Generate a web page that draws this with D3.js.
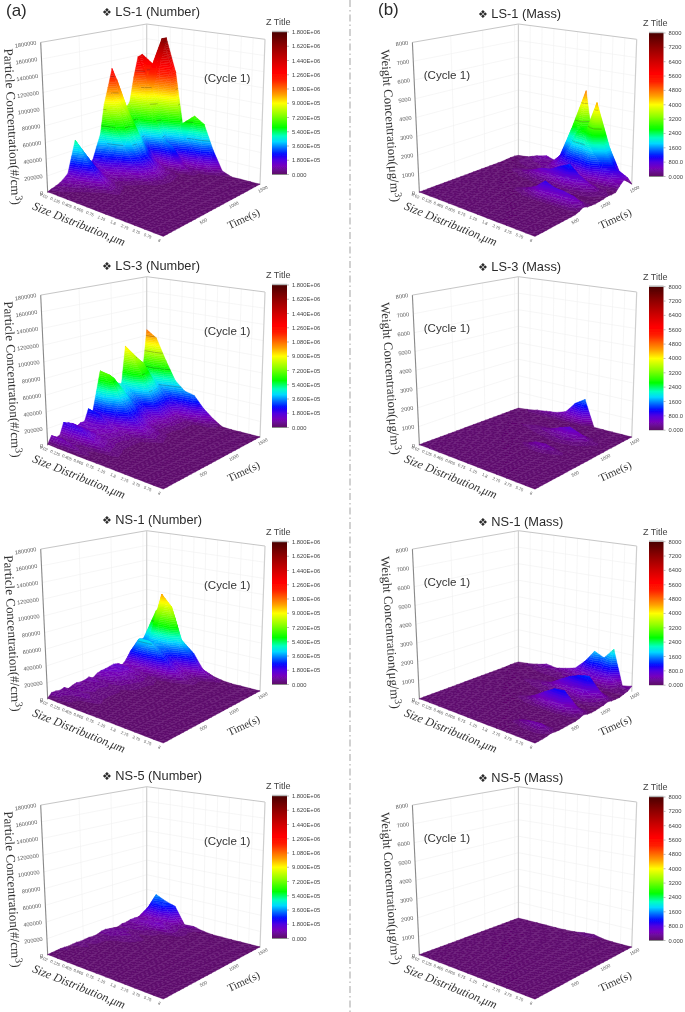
<!DOCTYPE html>
<html><head><meta charset="utf-8">
<script src="https://cdn.jsdelivr.net/npm/d3@7"></script>
<style>html,body{margin:0;padding:0;background:#fff}svg{display:block}</style>
</head><body><svg id="c" width="685" height="1012"></svg>
<script>
// ---------- chart data: rows = time steps (front to back), columns = size bins; missing trailing cells are at floor level
const sizeTicks = ["0.02","0.125","0.405","0.605","0.75","1.15","1.8","2.75","3.75","5.75","8"];
const timeTicks = [500,1000,1500];
const numberTicks = [0,200000,400000,600000,800000,1000000,1200000,1400000,1600000,1800000];
const massTicks = [0,1000,2000,3000,4000,5000,6000,7000,8000];
const numberBarLabels = ["0.000","1.800E+05","3.600E+05","5.400E+05","7.200E+05","9.000E+05","1.080E+06","1.260E+06","1.440E+06","1.620E+06","1.800E+06"];
const massBarLabels = ["0.000","800.0","1600","2400","3200","4000","4800","5600","6400","7200","8000"];

// number concentration, in thousands of #/cm3
const LS1_NUMBER = [[10],[30,15],[45,25,12],[65,35,15],[100,60,25],[145,90,40,15],[330,200,90,30],[520,360,190,80,30],[420,300,170,70,25],[310,210,110,50,20],[185,130,70,30,12],[200,140,80,35,15],[350,240,130,60,25],[500,350,200,90,35,12],[860,620,380,190,80,30],[1070,800,500,260,110,40,12],[1300,840,520,260,140,50,15],[1150,800,560,280,120,45,15],[820,640,400,200,90,35,12],[730,560,320,150,70,30],[800,560,250,80,30],[1120,950,700,380,320,110,30],[1380,1130,810,320,100,60,30,12],[1400,930,1650,1290,560,300,180,80,25],[1060,1230,1650,1200,330,680,600,290,55,10]];
const LS3_NUMBER = [[15,10],[100,105,70,40,20,10],[60,55,40,25,12],[70,70,50,30,15],[205,195,180,120,70,35,15],[185,175,150,100,60,30,12],[160,150,130,90,55,25,10],[100,100,90,70,45,20],[130,120,100,75,45,20],[130,125,110,80,45,20],[270,240,135,90,50,20,10],[210,190,120,80,45,20],[450,400,260,150,80,35,12],[700,680,400,240,130,70,30,12],[650,620,390,230,120,60,25],[560,510,400,220,110,55,20],[510,445,310,170,60,30,12],[480,420,300,160,70,30,12],[450,400,280,150,70,30],[930,820,500,250,90,40,15],[820,760,480,240,90,40,15],[760,700,460,230,90,40,15],[600,560,400,220,90,40,15],[500,480,350,240,180,150,80,40,15],[1080,990,710,470,360,330,190,90,15]];
const NS1_NUMBER = [[15],[65,40,20],[65,40,20],[55,50,25],[70,45,60,35,15],[40,45,50,30,15],[60,50,40,25,12],[75,60,45,25,12],[65,55,40,25],[70,55,40,25],[90,70,45,25],[60,50,35,20],[100,85,60,35,15],[115,100,70,40,20],[120,110,80,45,20],[130,125,90,50,20],[140,140,70,50,25,12],[130,120,80,40,20],[90,85,60,35,15],[140,130,110,90,60,30,12],[225,430,430,330,210,100,40,15],[290,330,380,300,180,90,35,15],[355,330,400,350,180,90,40,15],[320,400,1000,860,460,300,150,60,25],[285,740,880,670,280,270,90,45,20]];
const NS5_NUMBER = [[12],[15],[20,12],[25,15],[25,20,12],[20,20,12],[25,20,12],[30,25,15],[25,20,12],[30,25,15],[35,25,15],[30,25,15],[35,30,20,12],[55,50,35,20],[60,60,40,25,12],[50,55,50,30,15],[40,60,30,20,12],[35,40,25,15],[55,60,50,30,15],[55,65,60,35,15],[70,90,100,120,60,25,10],[70,80,95,90,60,30,12],[65,90,110,90,50,25],[45,260,280,180,60,30,10],[130,360,300,260,50,55,25,12]];

// mass concentration, ug/m3
const LS1_MASS = [[],[],[],[],[40,40,40,40,60,60,70,60,50,60,60,50],[],[],[],[],[],[],[40,40,40,40,60,80,120,250,450,380,350,300,100],[40,40,40,40,60,100,250,500,950,750,700,600,200],[40,40,40,40,60,80,130,260,480,400,360,300,100],[40,40,40,40,50,60,80,100,150,130,120,100,70],[],[40,40,40,60,80,120,160,180,220,160,120,80,50],[40,40,60,100,180,300,350,500,620,420,250,120,60],[40,60,100,200,350,600,700,1000,1250,800,480,200,100],[40,50,80,120,200,300,350,500,620,400,240,120,60],[40,50,70,90,120,160,200,250,300,220,150,100,60],[60,80,120,160,200,350,700,1200,1400,2000,900,500,300],[80,100,150,200,250,600,1400,2500,2800,4400,1850,1050,500],[80,100,200,300,250,900,2500,2700,2800,2300,1900,500,500],[40,100,300,440,260,1050,2400,4700,1200,700,400,200,60]];
const LS3_MASS = [[],[],[],[],[],[],[],[],[],[],[],[40,40,40,40,40,50,60,120,150,80,50],[40,40,40,40,40,60,120,350,400,180,80],[40,40,40,40,40,50,60,120,150,80,50],[],[],[40,40,40,40,50,60,90,130,180,120,60],[40,40,40,50,80,120,180,260,350,250,110,60],[40,60,80,100,130,200,300,520,700,500,200,80,50],[40,50,60,80,100,130,180,260,350,250,100,60],[],[],[],[40,50,60,70,80,90,100,80,50],[40,100,200,280,350,530,1150,1500,50,40]];
const NS1_MASS = [[],[],[],[40,40,40,40,40,40,40,40,40,100,150,160,60],[40,40,40,40,40,40,40,40,60,250,350,400,100],[40,40,40,40,40,40,40,40,40,120,180,180,60],[],[],[],[],[],[40,40,40,40,50,70,100,180,330,450,500,250,80],[40,40,40,40,60,80,150,400,750,1050,1100,500,150],[40,40,40,40,50,70,100,180,330,450,500,250,80],[],[],[40,40,40,50,60,80,120,180,250,300,320,180,70],[40,40,50,70,90,130,180,300,450,550,620,300,90],[40,50,70,90,130,200,320,650,950,1150,1250,600,150],[40,40,50,70,90,130,180,300,450,550,620,300,90],[40,40,50,60,70,80,100,130,160,180,180,100,60],[],[60,70,80,100,120,150,200,300,350,300,250,150,100],[60,80,100,150,150,200,280,500,700,800,700,200,150],[50,100,200,350,260,380,530,1050,1750,1500,2100,200,300]];
const NS5_MASS = [[],[],[],[],[],[],[],[],[],[],[],[],[],[],[],[],[],[],[40,40,40,40,40,45,50,60,70,60,50],[],[],[],[],[40,40,40,40,40,45,50,60,60,50],[40,40,40,40,40,50,80,160,200,80,50]];

const numberTitles = ["LS-1 (Number)","LS-3 (Number)","NS-1 (Number)","NS-5 (Number)"];
const massTitles = ["LS-1 (Mass)","LS-3 (Mass)","NS-1 (Mass)","NS-5 (Mass)"];
const numberGrids = [LS1_NUMBER,LS3_NUMBER,NS1_NUMBER,NS5_NUMBER];
const massGrids = [LS1_MASS,LS3_MASS,NS1_MASS,NS5_MASS];

// ---------- styling and layout
const ROWS=25, COLS=13, BANDS=80;
const rowDy=[0,252.7,506.7,762.7], colDx=371.7;
const numBarY=[32,285,542,796], massBarY=[33,286.7,541.7,797];
const titleY={a:[16,270,524,779.5],b:[17.5,271,525.5,781.5]};
const corners={A:[47.7,192.7],B:[163.3,237.3],C:[260,185],D:[146.7,156]};
const ups={A:[-7,-150.3],B:[-2,-164],C:[5,-145.7],D:[0,-132]};
const stops=[0,.003,.02,.06,.10,.14,.18,.23,.27,.33,.42,.5,.56,.66,.72,.8,.9,1];
const stopColors=["#111","#5c0868","#640880","#7606bc","#5000e0","#0808ff","#0060ff","#00d8ff","#00ffc0","#00ff00","#90ff00","#ffff00","#ffa000","#ff2000","#ff0000","#d00000","#900000","#4a0000"];
const colorOf=d3.scaleLinear().domain(stops).range(stopColors).clamp(true);
const uOf=d3.scaleLinear().domain([0,COLS-1]).range([0,1]);
const vOf=d3.scaleLinear().domain([0,ROWS-1]).range([0,1]);
const vOfTime=d3.scaleLinear().domain([-100,1560]).range([0,1]);
const uOfSize=d3.scalePoint().domain(sizeTicks).range([0,1]);

function bil(q,u,v){const f=k=>q.A[k]*(1-u)*(1-v)+q.B[k]*u*(1-v)+q.C[k]*u*v+q.D[k]*(1-u)*v;return [f(0),f(1)];}
function project(u,v,zf){const p=bil(corners,u,v),w=bil(ups,u,v);return [p[0]+zf*w[0],p[1]+zf*w[1]];}
const fmt=a=>a[0].toFixed(2)+","+a[1].toFixed(2);

const svg=d3.select("#c");
const defs=svg.append("defs");
defs.append("filter").attr("id","soft").attr("x",0).attr("y",0).attr("width",1).attr("height",1)
  .attr("filterUnits","objectBoundingBox")
  .append("feGaussianBlur").attr("stdDeviation",0.6);
const grad=defs.append("linearGradient").attr("id","bar").attr("x1",0).attr("x2",0).attr("y1",1).attr("y2",0);
stops.forEach((s,i)=>grad.append("stop").attr("offset",s).attr("stop-color",stopColors[i]));
const root=svg.append("g").attr("filter","url(#soft)");
root.append("rect").attr("width",685).attr("height",1012).attr("fill","#fff");

function clipZ(poly,lo,hi){ // keep the part of a polygon with lo<=z<=hi
  const cut=(pts,inside,lev)=>{const out=[];pts.forEach((p,i)=>{const q=pts[(i+1)%pts.length],a=inside(p),b=inside(q);
    if(a)out.push(p);
    if(a!==b){const t=(lev-p[2])/(q[2]-p[2]);out.push([p[0]+t*(q[0]-p[0]),p[1]+t*(q[1]-p[1]),lev]);}});return out;};
  let r=cut(poly,p=>p[2]>=lo,lo);if(r.length<3)return r;
  return cut(r,p=>p[2]<=hi,hi);
}
function isoSeg(tri,lev){const pts=[];for(let i=0;i<3;i++){const p=tri[i],q=tri[(i+1)%3];
  if((p[2]-lev)*(q[2]-lev)<0){const t=(lev-p[2])/(q[2]-p[2]);pts.push([p[0]+t*(q[0]-p[0]),p[1]+t*(q[1]-p[1])]);}}
  return pts.length===2?pts:null;}

function drawSurface(g,grid,zMax,floorVal,levels){
  const zF=d3.scaleLinear().domain([0,zMax]).range([0,1]);
  const val=(i,j)=>{const c=grid[i][j];return c===undefined?floorVal:Math.max(c,floorVal);};
  const vert=(i,j)=>{const z=val(i,j),p=project(uOf(j),vOf(i),zF(z));return [p[0],p[1],z];};
  const step=zMax/BANDS;
  const tri=(t,contour)=>{
    const zs=t.map(p=>p[2]),lo=Math.floor(d3.min(zs)/step),hi=Math.ceil(d3.max(zs)/step);
    for(let k=lo;k<Math.max(hi,lo+1);k++){
      const poly=clipZ(t,k*step,(k+1)*step); if(poly.length<3)continue;
      const col=colorOf(zF((k+.5)*step>floorVal*1.2?(k+.5)*step:floorVal));
      g.append("path").attr("d","M"+poly.map(fmt).join("L")+"Z").attr("fill",col).attr("stroke",col).attr("stroke-width",.35);
    }
    if(contour)levels.forEach(L=>{const s=isoSeg(t,L);if(s)g.append("path").attr("d","M"+fmt(s[0])+"L"+fmt(s[1])).attr("stroke","#2b2b2b").attr("stroke-opacity",.5).attr("stroke-width",.55).attr("fill","none");});
  };
  for(let i=ROWS-2;i>=0;i--)for(let j=0;j<COLS-1;j++){
    const a=vert(i,j),b=vert(i+1,j),c=vert(i+1,j+1),d=vert(i,j+1);
    const contour=(i%2===1);
    tri([a,b,c],contour); tri([a,c,d],contour);
    if(j%2===0)g.append("path").attr("d","M"+fmt(a)+"L"+fmt(b)).attr("stroke","#fff").attr("stroke-opacity",.045).attr("stroke-width",.5).attr("fill","none");
    if(i%3===1)g.append("path").attr("d","M"+fmt(b)+"L"+fmt(c)).attr("stroke","#fff").attr("stroke-opacity",.06).attr("stroke-width",.5).attr("fill","none");
  }
}

function drawPanel(px,py,o){
  const g=root.append("g").attr("transform",`translate(${px},${py})`);
  const zF=d3.scaleLinear().domain([0,o.ticks[o.ticks.length-1]]).range([0,1]);
  const line=(a,b,col,w)=>g.append("line").attr("x1",a[0]).attr("y1",a[1]).attr("x2",b[0]).attr("y2",b[1]).attr("stroke",col).attr("stroke-width",w);
  // walls
  o.ticks.slice(1,-1).forEach(t=>{const f=zF(t);
    line(project(0,0,f),project(0,1,f),"#f0f0f0",.6);line(project(0,1,f),project(1,1,f),"#f0f0f0",.6);});
  timeTicks.forEach(t=>line(project(0,vOfTime(t),0),project(0,vOfTime(t),1),"#f0f0f0",.6));
  sizeTicks.slice(1,-1).forEach(s=>line(project(uOfSize(s),1,0),project(uOfSize(s),1,1),"#f0f0f0",.6));
  line(project(0,0,1),project(0,1,1),"#c6c6c6",1);
  line(project(0,1,1),project(1,1,1),"#c6c6c6",1);
  line(project(0,1,0),project(0,1,1),"#cfcfcf",1.2);
  line(project(1,1,0),project(1,1,1),"#cfcfcf",1.2);
  line(project(0,0,0),project(0,0,1),"#8a8a8a",1.1);
  // surface
  drawSurface(g,o.grid,o.gridMax,o.floorVal,o.levels);
  // z tick labels
  o.ticks.forEach(t=>{const p=project(0,0,zF(t));
    g.append("text").attr("transform",`translate(${p[0]-4},${p[1]+2}) rotate(-9)`).attr("text-anchor","end")
     .attr("font-family","Liberation Sans").attr("font-size",5.6).attr("fill","#555").text(t);});
  // size tick labels
  sizeTicks.forEach(s=>{const p=project(uOfSize(s),0,0);
    g.append("text").attr("transform",`translate(${p[0]-4.5},${p[1]+4.5}) rotate(24)`).attr("text-anchor","middle")
     .attr("font-family","Liberation Sans").attr("font-size",4.1).attr("fill","#555").text(s);});
  // time tick labels
  timeTicks.forEach(t=>{const v=vOfTime(t),p=project(1,v,0);
    g.append("text").attr("transform",`translate(${p[0]+2.5},${p[1]+6}) rotate(-27)`)
     .attr("font-family","Liberation Sans").attr("font-size",4.6).attr("fill","#555").text(t);});
  // axis titles
  const zt=g.append("text").attr("transform",`translate(${o.ztx},${o.zty}) rotate(${o.ztr})`).attr("text-anchor","middle")
     .attr("font-family","Liberation Serif").attr("font-size",o.zts).attr("fill","#333");
  zt.append("tspan").text(o.ztitle);
  zt.append("tspan").attr("font-size",o.zts*.8).attr("dy",-4).text("3");
  zt.append("tspan").attr("dy",4).text(")");
  g.append("text").attr("transform","translate(77.5,227.5) rotate(22)").attr("text-anchor","middle")
     .attr("font-family","Liberation Serif").attr("font-style","italic").attr("font-size",12).attr("fill","#333").text("Size Distribution,\u03bcm");
  g.append("text").attr("transform","translate(245,222) rotate(-25)").attr("text-anchor","middle")
     .attr("font-family","Liberation Serif").attr("font-size",11).attr("fill","#333").text("Time(s)");
  g.append("text").attr("x",o.cx).attr("y",o.cy).attr("font-family","Liberation Sans").attr("font-size",11.6).attr("fill","#333").text("(Cycle 1)");
}

function drawBar(x,y,w,h,labels,titleX){
  const g=root.append("g");
  const yS=d3.scalePoint().domain(labels).range([y+h,y]);
  g.append("rect").attr("x",x).attr("y",y).attr("width",w).attr("height",h).attr("fill","url(#bar)");
  g.append("rect").attr("x",x).attr("y",y-1.2).attr("width",w).attr("height",1.4).attr("fill","#b5b5b5");
  labels.forEach(l=>{
    g.append("line").attr("x1",x+w).attr("x2",x+w+2).attr("y1",yS(l)).attr("y2",yS(l)).attr("stroke","#777").attr("stroke-width",.5);
    g.append("text").attr("x",x+w+5).attr("y",yS(l)+2).attr("font-family","Liberation Sans").attr("font-size",5.8).attr("fill","#444").text(l);
  });
  g.append("text").attr("x",titleX).attr("y",y-7).attr("font-family","Liberation Sans").attr("font-size",9).attr("fill","#444").text("Z Title");
}

function heading(x,y,t){
  const tx=root.append("text").attr("x",x).attr("y",y).attr("font-family","Liberation Sans").attr("font-size",12.8).attr("fill","#2b2b2b");
  tx.append("tspan").attr("font-family","DejaVu Sans").attr("font-size",11).text("\u2756 ");
  tx.append("tspan").text(t);
}

numberGrids.forEach((grid,r)=>{
  drawPanel(0,rowDy[r],{grid,gridMax:1800,floorVal:10,levels:d3.range(400,1800,200),ticks:numberTicks,
    ztitle:"Particle Concentration(#/cm",ztx:8,zty:127,ztr:87,zts:13,cx:204,cy:82});
  drawBar(272,numBarY[r],15,142.5,numberBarLabels,266);
  heading(102,titleY.a[r],numberTitles[r]);
});
massGrids.forEach((grid,r)=>{
  drawPanel(colDx,rowDy[r],{grid,gridMax:8000,floorVal:40,levels:d3.range(2000,8000,1000),ticks:massTicks,
    ztitle:"Weight Concentration(\u03bcg/m",ztx:14.5,zty:126,ztr:86,zts:12.8,cx:52,cy:79});
  drawBar(649,massBarY[r],14.5,143.5,massBarLabels,643);
  heading(478,titleY.b[r],massTitles[r]);
});

root.append("text").attr("x",6).attr("y",16).attr("font-family","Liberation Sans").attr("font-size",17).attr("fill","#2b2b2b").text("(a)");
root.append("text").attr("x",378).attr("y",15).attr("font-family","Liberation Sans").attr("font-size",17).attr("fill","#2b2b2b").text("(b)");
root.append("line").attr("x1",350).attr("x2",350).attr("y1",0).attr("y2",1012).attr("stroke","#999").attr("stroke-width",.9).attr("stroke-dasharray","7 3 1.5 3");
</script></body></html>
